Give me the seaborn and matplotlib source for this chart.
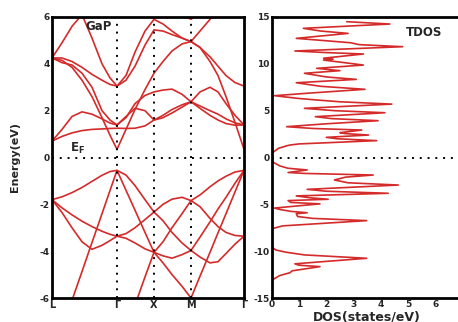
import numpy as np
import pandas as pd
import seaborn as sns
import matplotlib.pyplot as plt

#------------------------------
# band structure data (k path offset in px-like units, energy in eV)
kpath = [0, 10, 20, 30, 40, 50, 58, 65, 74, 83, 93, 102, 111, 120, 130, 139, 148, 158, 166, 174, 183, 192]
k_ticks = [0, 65, 102, 139, 192]
k_labels = ["L", "Γ", "X", "M", "Γ"]

v1 = [-1.80, -1.68, -1.50, -1.28, -1.02, -0.76, -0.60, -0.55, -0.75, -1.20, -1.80, -2.33, -2.00, -1.78, -1.70, -1.84, -1.60, -1.25, -1.00, -0.80, -0.62, -0.55]
v2 = [-8.60, -7.35, -6.10, -4.87, -3.63, -2.40, -1.41, -0.55, -1.40, -2.25, -3.20, -4.05, -4.50, -5.00, -5.50, -6.00, -5.07, -4.05, -3.22, -2.40, -1.47, -0.55]
v3 = [-1.80, -2.15, -2.45, -2.72, -2.95, -3.15, -3.28, -3.36, -3.25, -3.00, -2.65, -2.33, -2.70, -3.20, -3.65, -3.97, -3.40, -2.75, -2.20, -1.70, -1.10, -0.55]
v4 = [-1.80, -2.35, -3.00, -3.60, -3.92, -3.75, -3.55, -3.36, -3.45, -3.65, -3.90, -4.05, -3.60, -3.00, -2.40, -1.84, -2.10, -2.60, -2.95, -3.20, -3.33, -3.36]
v5 = [-9.0, -9.0, -9.0, -9.0, -9.0, -9.0, -9.0, -9.0, -8.00, -6.30, -5.10, -4.05, -4.20, -4.30, -4.15, -3.97, -4.25, -4.50, -4.45, -4.10, -3.70, -3.36]

c1 = [4.25, 4.15, 3.85, 3.30, 2.60, 1.70, 0.95, 0.35, 1.20, 2.05, 2.90, 3.60, 4.10, 4.55, 4.85, 4.95, 4.70, 4.10, 3.50, 2.60, 1.50, 0.35]
c2 = [0.70, 1.20, 1.75, 1.95, 1.85, 1.65, 1.47, 1.39, 1.75, 2.10, 2.00, 1.60, 1.70, 1.90, 2.15, 2.38, 2.80, 3.00, 2.80, 2.30, 1.80, 1.39]
c3 = [0.70, 0.90, 1.05, 1.15, 1.20, 1.22, 1.24, 1.25, 1.24, 1.25, 1.35, 1.60, 1.80, 2.05, 2.25, 2.38, 2.10, 1.80, 1.60, 1.45, 1.38, 1.39]
c4 = [4.25, 4.05, 3.95, 3.60, 3.00, 2.00, 1.60, 1.39, 1.70, 2.30, 2.65, 2.80, 2.88, 2.92, 2.70, 2.38, 2.20, 2.00, 1.85, 1.65, 1.48, 1.39]
c5 = [4.25, 4.25, 4.10, 3.85, 3.55, 3.30, 3.12, 3.05, 3.30, 3.90, 4.80, 5.45, 5.40, 5.25, 5.10, 4.95, 4.70, 4.30, 3.90, 3.50, 3.20, 3.05]
c6 = [4.25, 4.90, 5.60, 6.10, 5.10, 4.00, 3.40, 3.05, 3.50, 4.50, 5.40, 5.90, 5.70, 5.40, 5.10, 4.95, 5.40, 5.90, 6.40, 6.80, 7.00, 7.10]
c7 = [6.6, 6.5, 6.6, 6.8, 7.0, 7.2, 7.3, 7.3, 7.0, 6.6, 6.2, 5.95, 6.1, 6.3, 6.1, 5.9, 6.2, 6.6, 6.9, 7.1, 7.3, 7.3]

bands = {"v1": v1, "v2": v2, "v3": v3, "v4": v4, "v5": v5,
         "c1": c1, "c2": c2, "c3": c3, "c4": c4, "c5": c5, "c6": c6, "c7": c7}

# total DOS data
dos_energy = [-15.0, -13.1, -12.6, -12.3, -12.1, -11.65, -11.5, -11.35, -10.76, -10.4, -10.1, -9.87, -9.6,
              -7.6, -7.3, -6.74, -6.5, -6.3, -6.0, -5.9, -5.75, -5.55, -5.4, -5.1, -4.95, -4.8, -4.6,
              -4.46, -4.3, -4.1, -3.82, -3.6, -3.4, -2.94, -2.7, -2.4, -2.1, -1.87, -1.7, -1.6, -1.33,
              -1.15, -0.9, -0.5, 0.0, 0.5, 0.98, 1.25, 1.33, 1.45, 1.8, 2.0, 2.15, 2.4, 2.55, 2.65, 2.93,
              3.1, 3.29, 3.6, 3.93, 4.15, 4.36, 4.78, 5.0, 5.25, 5.7, 5.95, 6.14, 6.3, 6.6, 6.9, 7.28,
              7.6, 7.98, 8.34, 8.6, 8.99, 9.27, 9.52, 9.87, 10.15, 10.4, 10.5, 10.6, 11.05, 11.2, 11.37,
              11.83, 12.05, 12.25, 12.72, 13.25, 13.5, 13.79, 14.25, 14.5]
dos_value = [0.0, 0.0, 0.3, 0.67, 0.75, 1.77, 1.0, 0.85, 3.48, 1.2, 0.5, 0.15, 0.02,
             0.02, 0.4, 3.48, 1.5, 0.95, 0.9, 1.3, 0.7, 0.3, 0.1, 1.2, 1.77, 0.7, 0.6,
             2.07, 1.4, 0.9, 4.27, 2.0, 1.3, 4.64, 2.8, 2.3, 2.7, 3.72, 1.2, 0.6, 1.3,
             0.6, 0.3, 0.05, 0.0, 0.02, 0.25, 0.55, 0.67, 1.0, 3.85, 2.4, 2.0, 3.55, 2.7, 2.5, 3.3,
             1.5, 0.55, 2.0, 3.9, 2.2, 1.6, 4.15, 2.3, 1.2, 4.4, 2.5, 1.65, 1.0, 0.1, 1.5, 3.42,
             1.8, 0.9, 3.1, 2.0, 1.2, 2.5, 1.65, 3.36, 2.6, 1.9, 2.25, 1.9, 3.36, 2.0, 0.85,
             4.8, 3.2, 2.9, 0.9, 2.8, 1.8, 1.16, 4.33, 2.75]

red = "#d42a2a"

#------------------------------
sns.set_style("white")
plt.rcParams["font.family"] = ["DejaVu Sans"]

fig = plt.figure(figsize=(4.58, 3.22), dpi=100)
ax1 = fig.add_axes([52 / 458, 24 / 322, 192 / 458, 281 / 322])
ax2 = fig.add_axes([271.7 / 458, 24 / 322, 191 / 458, 281 / 322])

#band plot
rows = []
for name, energies in bands.items():
    for k, e in zip(kpath, energies):
        rows.append({"band": name, "k": k, "E": e})
df_bands = pd.DataFrame(rows)
sns.lineplot(data=df_bands, x="k", y="E", units="band", estimator=None,
             color=red, lw=1.2, ax=ax1, legend=False)

for kt in k_ticks[1:-1]:
    ax1.axvline(kt, color="black", ls=(0, (1, 3)), lw=1.4)
ax1.axhline(0, color="black", ls=(0, (1, 3)), lw=1.4)

ax1.set_xlim(0, 192)
ax1.set_ylim(-6, 6)
ax1.set_xticks(k_ticks)
ax1.set_xticklabels(k_labels, fontsize=7, fontweight="bold")
ax1.set_yticks([-6, -4, -2, 0, 2, 4, 6])
ax1.set_yticklabels(["-6", "-4", "-2", "0", "2", "4", "6"], fontsize=6.5, fontweight="bold")
ax1.set_xlabel("")
ax1.set_ylabel("Energy(eV)", fontsize=8, fontweight="bold", labelpad=14)
ax1.text(33, 5.45, "GaP", fontsize=8.5, fontweight="bold")
ax1.text(18, 0.25, r"$\mathbf{E_F}$", fontsize=8.5)

#dos plot
df_dos = pd.DataFrame({"E": dos_energy, "DOS": dos_value})
sns.lineplot(data=df_dos, x="DOS", y="E", sort=False, estimator=None, orient="y",
             color=red, lw=1.2, ax=ax2)
ax2.axhline(0, color="black", ls=(0, (1, 3)), lw=1.4)
ax2.set_xlim(0, 7)
ax2.set_ylim(-15, 15)
ax2.set_xticks([0, 1, 2, 3, 4, 5, 6])
ax2.set_xticklabels(["0", "1", "2", "3", "4", "5", "6"], fontsize=6.5, fontweight="bold")
ax2.set_yticks([-15, -10, -5, 0, 5, 10, 15])
ax2.set_yticklabels(["-15", "-10", "-5", "0", "5", "10", "15"], fontsize=6.5, fontweight="bold")
ax2.set_ylabel("")
ax2.set_xlabel("DOS(states/eV)", fontsize=9, fontweight="bold", labelpad=1)
ax2.text(4.9, 13.0, "TDOS", fontsize=8.5, fontweight="bold")

for ax in [ax1, ax2]:
    for sp in ax.spines.values():
        sp.set_linewidth(2)
        sp.set_color("black")
    ax.tick_params(length=0, pad=1.5)

fig.savefig("out.png", dpi=100)
